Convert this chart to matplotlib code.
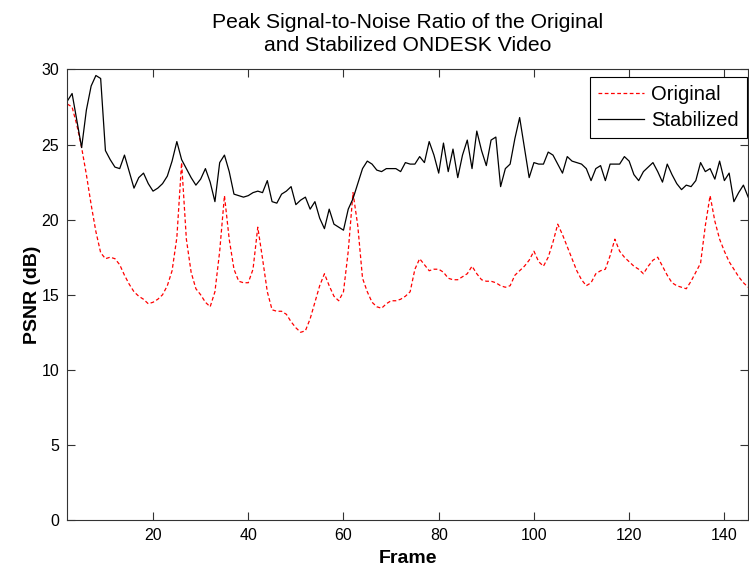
import numpy as np
import matplotlib
matplotlib.use('Agg')
import matplotlib.pyplot as plt

plt.rcParams['font.family'] = ['Liberation Sans', 'DejaVu Sans']

# frames 2..145
frames = np.arange(2, 146)

stabilized = [
    27.9, 28.4, 26.6, 24.8, 27.3, 28.9, 29.6, 29.4, 24.6, 24.0,   # 2-11
    23.5, 23.4, 24.3, 23.2, 22.1, 22.8, 23.1, 22.4, 21.9, 22.1,   # 12-21
    22.4, 22.9, 23.9, 25.2, 24.0, 23.4, 22.8, 22.3, 22.7, 23.4,   # 22-31
    22.5, 21.2, 23.8, 24.3, 23.2, 21.7, 21.6, 21.5, 21.6, 21.8,   # 32-41
    21.9, 21.8, 22.6, 21.2, 21.1, 21.7, 21.9, 22.2, 21.0, 21.3,   # 42-51
    21.5, 20.7, 21.2, 20.1, 19.4, 20.7, 19.7, 19.5, 19.3, 20.7,   # 52-61
    21.4, 22.4, 23.4, 23.9, 23.7, 23.3, 23.2, 23.4, 23.4, 23.4,   # 62-71
    23.2, 23.8, 23.7, 23.7, 24.2, 23.8, 25.2, 24.3, 23.1, 25.1,   # 72-81
    23.2, 24.7, 22.8, 24.3, 25.3, 23.4, 25.9, 24.6, 23.6, 25.3,   # 82-91
    25.5, 22.2, 23.4, 23.7, 25.4, 26.8, 24.8, 22.8, 23.8, 23.7,   # 92-101
    23.7, 24.5, 24.3, 23.7, 23.1, 24.2, 23.9, 23.8, 23.7, 23.4,   # 102-111
    22.6, 23.4, 23.6, 22.6, 23.7, 23.7, 23.7, 24.2, 23.9, 23.0,   # 112-121
    22.6, 23.2, 23.5, 23.8, 23.2, 22.5, 23.7, 23.0, 22.4, 22.0,   # 122-131
    22.3, 22.2, 22.6, 23.8, 23.2, 23.4, 22.7, 23.9, 22.6, 23.1,   # 132-141
    21.2, 21.8, 22.3, 21.5,                                       # 142-145
]

original = [
    27.7, 27.5, 26.3, 24.8, 23.0, 21.0, 19.2, 17.8, 17.4, 17.5,   # 2-11
    17.4, 17.0, 16.3, 15.7, 15.2, 14.9, 14.7, 14.4, 14.5, 14.7,   # 12-21
    15.0, 15.6, 16.6, 18.8, 23.8, 18.7, 16.5, 15.4, 15.0, 14.5,   # 22-31
    14.2, 15.2, 17.9, 21.6, 18.7, 16.7, 15.9, 15.8, 15.8, 16.7,   # 32-41
    19.5, 17.4, 15.2, 14.0, 13.9, 13.9, 13.7, 13.2, 12.8, 12.5,   # 42-51
    12.6, 13.4, 14.5, 15.6, 16.4, 15.6, 14.9, 14.6, 15.2, 17.9,   # 52-61
    21.8, 19.6, 16.1, 15.2, 14.5, 14.2, 14.1, 14.4, 14.6, 14.6,   # 62-71
    14.7, 14.9, 15.2, 16.7, 17.4, 17.0, 16.6, 16.7, 16.7, 16.5,   # 72-81
    16.1, 16.0, 16.0, 16.2, 16.4, 16.9, 16.4, 16.0, 15.9, 15.9,   # 82-91
    15.8, 15.6, 15.5, 15.6, 16.3, 16.6, 16.9, 17.3, 17.9, 17.2,   # 92-101
    16.9, 17.5, 18.5, 19.7, 19.0, 18.2, 17.4, 16.6, 16.0, 15.6,   # 102-111
    15.8, 16.4, 16.6, 16.7, 17.6, 18.7, 17.9, 17.5, 17.2, 16.9,   # 112-121
    16.7, 16.4, 16.9, 17.3, 17.5, 16.9, 16.3, 15.8, 15.6, 15.5,   # 122-131
    15.4, 15.9, 16.5, 17.1, 19.6, 21.6, 19.9, 18.7, 17.9, 17.2,   # 132-141
    16.7, 16.2, 15.8, 15.5,                                       # 142-145
]

fig = plt.figure(figsize=(7.49, 5.71), dpi=100)
ax = fig.add_axes([0.0899, 0.0893, 0.909, 0.789])

ax.plot(frames, original, color='red', linestyle='--', linewidth=0.9,
        dashes=(3, 2), label='Original')
ax.plot(frames, stabilized, color='black', linewidth=0.9, label='Stabilized')

ax.set_xlim(2, 145)
ax.set_ylim(0, 30)
ax.set_xticks([20, 40, 60, 80, 100, 120, 140])
ax.set_yticks([0, 5, 10, 15, 20, 25, 30])
ax.tick_params(direction='in', length=6, top=True, right=True, pad=6,
               labelsize=11.5, width=0.8, colors='#333333', labelcolor='black')
for s in ax.spines.values():
    s.set_color('#333333')
    s.set_linewidth(0.8)

ax.set_xlabel('Frame', fontsize=14, fontweight='bold', labelpad=5)
ax.set_ylabel('PSNR (dB)', fontsize=14, fontweight='bold', labelpad=0)
ax.set_title('Peak Signal-to-Noise Ratio of the Original\nand Stabilized ONDESK Video',
             fontsize=15.2, pad=13, linespacing=1.28)

leg = ax.legend(loc='upper right', bbox_to_anchor=(0.998, 0.983), fontsize=14.5,
                fancybox=False, framealpha=1, edgecolor='black', borderaxespad=0,
                handlelength=2.3, labelspacing=0.35, borderpad=0.4,
                handletextpad=0.35)
leg.get_frame().set_linewidth(0.8)

fig.savefig('out.png', dpi=100)
